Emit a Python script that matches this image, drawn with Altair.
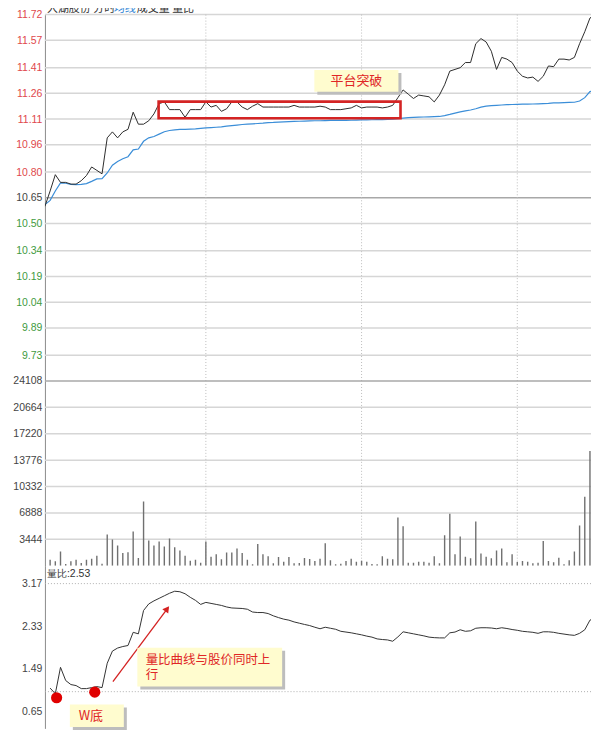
import altair as alt
import pandas as pd

# ---------------- data ----------------
# minute index 0..107 (x), price line and average-price line
price = [10.60, 10.69, 10.785, 10.74, 10.74, 10.73, 10.73, 10.75, 10.78, 10.83,
         10.81, 10.79, 11.00, 11.035, 11.00, 11.035, 11.05, 11.15, 11.08, 11.08,
         11.10, 11.14, 11.20, 11.21, 11.165, 11.165, 11.165, 11.12, 11.165, 11.165,
         11.165, 11.21, 11.18, 11.19, 11.155, 11.17, 11.21, 11.21, 11.18, 11.165,
         11.185, 11.20, 11.18, 11.18, 11.18, 11.18, 11.18, 11.18, 11.19, 11.18,
         11.18, 11.18, 11.18, 11.185, 11.18, 11.165, 11.165, 11.165, 11.17, 11.175,
         11.19, 11.175, 11.18, 11.18, 11.18, 11.175, 11.18, 11.19, 11.235, 11.28,
         11.255, 11.23, 11.25, 11.245, 11.24, 11.21, 11.25, 11.31, 11.39, 11.40,
         11.41, 11.44, 11.44, 11.55, 11.58, 11.56, 11.506, 11.40, 11.47, 11.46,
         11.44, 11.39, 11.36, 11.35, 11.355, 11.33, 11.36, 11.42, 11.416, 11.46,
         11.46, 11.455, 11.47, 11.55, 11.62, 11.70, 11.72, 11.72]

avg_price = [10.61, 10.635, 10.69, 10.737, 10.735, 10.728, 10.727, 10.728, 10.733, 10.746,
             10.76, 10.762, 10.795, 10.84, 10.862, 10.878, 10.89, 10.93, 10.935, 10.98,
             11.00, 11.008, 11.022, 11.036, 11.043, 11.047, 11.05, 11.05, 11.051, 11.052,
             11.055, 11.058, 11.06, 11.062, 11.064, 11.069, 11.072, 11.075, 11.078, 11.08,
             11.082, 11.084, 11.086, 11.089, 11.09, 11.092, 11.094, 11.095, 11.096, 11.097,
             11.098, 11.099, 11.10, 11.10, 11.101, 11.102, 11.102, 11.102, 11.102, 11.103,
             11.104, 11.105, 11.105, 11.106, 11.107, 11.107, 11.108, 11.109, 11.112, 11.115,
             11.118, 11.12, 11.121, 11.122, 11.123, 11.124, 11.125, 11.13, 11.137, 11.145,
             11.152, 11.158, 11.163, 11.17, 11.18, 11.185, 11.188, 11.19, 11.192, 11.194,
             11.195, 11.196, 11.197, 11.197, 11.198, 11.199, 11.20, 11.201, 11.204, 11.205,
             11.206, 11.207, 11.208, 11.215, 11.235, 11.27, 11.278, 11.279]

# volume bars, minute index 1..106
volume = [786, 570, 1834, 218, 570, 786, 350, 786, 917, 1310,
          262, 4060, 3406, 2620, 1660, 1747, 4454, 1004, 8384, 3275,
          2620, 3144, 2489, 3537, 2401, 1965, 1310, 655, 786, 393,
          3144, 1179, 1485, 830, 1703, 1703, 2227, 1660, 786, 175,
          2838, 1485, 1223, 306, 1135, 524, 1135, 306,
          350, 1004, 873, 611, 917, 2925, 699, 175, 262, 611,
          917, 524, 655, 524, 218, 175, 1223, 917, 830, 6288,
          5153, 393, 393, 524, 524, 393, 1223, 306, 3974, 6768,
          1485, 3799, 1179, 961, 5764, 1572, 1179, 961, 1965, 2227,
          437, 1485, 480, 611, 524, 306, 393, 3231, 611, 437,
          1048, 175, 699, 1834, 5240, 8995, 14977, 2533]

# volume ratio (量比), minute index 1..107
vol_ratio = [1.11, 1.00, 1.52, 1.26, 1.18, 1.16, 1.10, 1.10, 1.12, 1.14,
             1.12, 1.60, 1.84, 1.90, 1.93, 1.95, 2.21, 2.18, 2.64, 2.77,
             2.83, 2.88, 2.93, 2.98, 3.02, 3.01, 2.97, 2.90, 2.84, 2.76,
             2.80, 2.78, 2.76, 2.74, 2.71, 2.69, 2.685, 2.68, 2.665, 2.61,
             2.60, 2.60, 2.58, 2.535, 2.50, 2.47, 2.45, 2.415, 2.39, 2.365,
             2.343, 2.31, 2.28, 2.31, 2.29, 2.27, 2.23, 2.215, 2.20, 2.18,
             2.16, 2.135, 2.115, 2.08, 2.068, 2.06, 2.034, 2.12, 2.22, 2.20,
             2.18, 2.16, 2.14, 2.115, 2.105, 2.10, 2.10, 2.20, 2.215, 2.26,
             2.23, 2.24, 2.29, 2.30, 2.30, 2.295, 2.28, 2.30, 2.285, 2.265,
             2.25, 2.23, 2.22, 2.21, 2.19, 2.22, 2.22, 2.21, 2.19, 2.175,
             2.16, 2.15, 2.19, 2.26, 2.45, 2.495, 2.495]

price_ticks = [11.72, 11.57, 11.41, 11.26, 11.11, 10.96, 10.80, 10.65,
               10.50, 10.34, 10.19, 10.04, 9.89, 9.73]
vol_ticks = [3444, 6888, 10332, 13776, 17220, 20664, 24108]
ratio_ticks = [0.65, 1.49, 2.33, 3.17]
ratio_ref_lines = [3.17, 1.04]
time_lines = [31, 61, 91]
prev_close = 10.65
ratio_label = "量比:2.53"

platform_box = {"x": 21.9, "x2": 68.5, "y": 11.115, "y2": 11.212}
platform_note = {"x": 51.9, "x2": 68.1, "y": 11.27, "y2": 11.397,
                 "tx": 60.0, "ty": 11.333, "text": "平台突破"}
ratio_note_box = {"x": 17.8, "x2": 45.7, "y": 1.142, "y2": 1.904}
ratio_note_lines = ["量比曲线与股价同时上", "行"]
ratio_note_x = [19.4, 19.4]
ratio_note_y = [1.67, 1.365]
w_box = {"x": 4.8, "x2": 15.2, "y": 0.341, "y2": 0.788}
w_text = {"tx": 6.5, "ty": 0.558, "text": "W底"}
w_dots_x = [2.25, 9.6]
w_dots_y = [0.92, 1.03]
arrow = {"x": 13.1, "y": 1.24, "x2": 23.7, "y2": 2.69}
arrow_head = {"x": 23.55, "y": 2.674}

# ---------------- styling ----------------
FONT = "Liberation Sans"
CJK = "Noto Sans CJK SC"
W = 547
RED_TXT = "#e02626"
NOTE_BG = "#fffccf"
SHADOW = "#bdbdbd"

XS = alt.Scale(domain=[0, 105.2], nice=False, zero=False)
PS = alt.Scale(domain=[9.58, 11.72], nice=False, zero=False)
VS = alt.Scale(domain=[0, 24108], nice=False, zero=False)
RS = alt.Scale(domain=[0.316, 3.524], nice=False, zero=False)


def X(field="i"):
    return alt.X(f"{field}:Q", scale=XS, axis=None)


def make_axis(values, fmt, label_color):
    return alt.Axis(values=values, format=fmt, grid=False, ticks=False, domain=True,
                    domainColor="#8c8c8c", domainWidth=1, labelPadding=3, labelFont=FONT,
                    labelFontSize=10.5, labelOverlap=False, labelBound=False,
                    labelFlush=False, minExtent=37, maxExtent=37, title=None,
                    labelColor=label_color)


price_label_color = {
    "condition": [
        {"test": "datum.value > 10.655", "value": "#e0484c"},
        {"test": "datum.value < 10.645", "value": "#3f9b3f"},
    ],
    "value": "#444444",
}
price_axis = make_axis(price_ticks, ".2f", price_label_color)
vol_axis = make_axis(vol_ticks, "d", "#444444")
ratio_axis = make_axis(ratio_ticks, ".2f", "#444444")


def Yp(field):
    return alt.Y(f"{field}:Q", scale=PS, axis=price_axis)


def Yv(field):
    return alt.Y(f"{field}:Q", scale=VS, axis=vol_axis)


def Yr(field):
    return alt.Y(f"{field}:Q", scale=RS, axis=ratio_axis)


df_p = pd.DataFrame({"i": list(range(len(price))), "price": price, "avg": avg_price})
df_v = pd.DataFrame({"i": list(range(1, len(volume) + 1)), "vol": volume})
df_r = pd.DataFrame({"i": list(range(1, len(vol_ratio) + 1)), "ratio": vol_ratio})
df_t = pd.DataFrame({"t": time_lines})

# ---------------- price panel ----------------
p_grid = alt.Chart(pd.DataFrame({"v": price_ticks})).mark_rule(strokeWidth=1.5).encode(
    y=Yp("v"),
    color=alt.condition(f"datum.v == {prev_close}", alt.value("#a8a8a8"), alt.value("#d6d6d6")),
)
p_vlines = alt.Chart(df_t).mark_rule(strokeDash=[1, 2], color="#bdbdbd", strokeWidth=1).encode(x=X("t"))
p_box = alt.Chart(pd.DataFrame([platform_box])).mark_rect(
    fill="transparent", stroke="#d42424", strokeWidth=2.6).encode(
    x=X("x"), x2="x2", y=Yp("y"), y2="y2")
p_avg = alt.Chart(df_p).mark_line(color="#3b8ed8", strokeWidth=1.2, clip=True).encode(x=X(), y=Yp("avg"))
p_line = alt.Chart(df_p).mark_line(color="#2d2d2d", strokeWidth=1, clip=True).encode(x=X(), y=Yp("price"))
pn_df = pd.DataFrame([platform_note])
p_note_sh = alt.Chart(pn_df).mark_rect(color=SHADOW, xOffset=3, x2Offset=3, yOffset=3, y2Offset=3).encode(
    x=X("x"), x2="x2", y=Yp("y"), y2="y2")
p_note = alt.Chart(pn_df).mark_rect(color=NOTE_BG).encode(x=X("x"), x2="x2", y=Yp("y"), y2="y2")
p_note_t = alt.Chart(pn_df).mark_text(font=CJK, fontSize=13, color=RED_TXT).encode(
    x=X("tx"), y=Yp("ty"), text="text:N")
hdr1 = alt.Chart(pd.DataFrame({"t": ["大湖股份  分时"]})).mark_text(
    font=CJK, fontSize=11, color="#333333", align="left", baseline="bottom").encode(
    x=alt.value(2), y=alt.value(-1), text="t:N")
hdr2 = alt.Chart(pd.DataFrame({"t": ["均线"]})).mark_text(
    font=CJK, fontSize=11, color="#2a7fd4", align="left", baseline="bottom").encode(
    x=alt.value(69), y=alt.value(-1), text="t:N")
hdr3 = alt.Chart(pd.DataFrame({"t": ["成交量  量比"]})).mark_text(
    font=CJK, fontSize=11, color="#333333", align="left", baseline="bottom").encode(
    x=alt.value(92), y=alt.value(-1), text="t:N")

price_chart = alt.layer(p_grid, p_vlines, p_avg, p_line, p_box, p_note_sh, p_note, p_note_t,
                        hdr1, hdr2, hdr3).properties(width=W, height=367)

# ---------------- volume panel ----------------
v_grid = alt.Chart(pd.DataFrame({"v": vol_ticks})).mark_rule(strokeWidth=1.5).encode(
    y=Yv("v"),
    color=alt.condition("datum.v == 24108", alt.value("#a8a8a8"), alt.value("#d6d6d6")),
)
v_vlines = alt.Chart(df_t).mark_rule(strokeDash=[1, 2], color="#bdbdbd", strokeWidth=1).encode(x=X("t"))
v_bars = alt.Chart(df_v).mark_rule(color="#707070", strokeWidth=1.4, clip=True).encode(
    x=X(), y=Yv("vol"), y2=alt.datum(0))
vol_chart = alt.layer(v_grid, v_vlines, v_bars).properties(width=W, height=185)

# ---------------- ratio panel ----------------
r_grid = alt.Chart(pd.DataFrame({"v": ratio_ref_lines})).mark_rule(
    strokeDash=[1, 2], color="#b0b0b0", strokeWidth=1).encode(y=Yr("v"))
r_line = alt.Chart(df_r).mark_line(color="#333333", strokeWidth=1, clip=True).encode(x=X(), y=Yr("ratio"))
r_label = alt.Chart(pd.DataFrame({"t": [ratio_label]})).mark_text(
    font=FONT, fontSize=10.5, color="#333333", align="left", baseline="middle").encode(
    x=alt.value(2), y=alt.value(8), text="t:N")
ar_df = pd.DataFrame([arrow])
r_arrow = alt.Chart(ar_df).mark_rule(color="#d42222", strokeWidth=1.3).encode(
    x=X("x"), x2="x2", y=Yr("y"), y2="y2")
r_head = alt.Chart(pd.DataFrame([arrow_head])).mark_point(
    shape="triangle-up", filled=True, size=55, angle=36.7, color="#d42222", opacity=1).encode(
    x=X("x"), y=Yr("y"))
rn_df = pd.DataFrame([ratio_note_box])
r_note_sh = alt.Chart(rn_df).mark_rect(color=SHADOW, xOffset=3, x2Offset=3, yOffset=3, y2Offset=3).encode(
    x=X("x"), x2="x2", y=Yr("y"), y2="y2")
r_note = alt.Chart(rn_df).mark_rect(color=NOTE_BG).encode(x=X("x"), x2="x2", y=Yr("y"), y2="y2")
r_note_t = alt.Chart(pd.DataFrame({"tx": ratio_note_x, "ty": ratio_note_y, "text": ratio_note_lines})).mark_text(
    font=CJK, fontSize=12.5, color=RED_TXT, align="left").encode(x=X("tx"), y=Yr("ty"), text="text:N")
wb_df = pd.DataFrame([w_box])
w_sh = alt.Chart(wb_df).mark_rect(color=SHADOW, xOffset=3, x2Offset=3, yOffset=3, y2Offset=3).encode(
    x=X("x"), x2="x2", y=Yr("y"), y2="y2")
w_rect = alt.Chart(wb_df).mark_rect(color=NOTE_BG).encode(x=X("x"), x2="x2", y=Yr("y"), y2="y2")
w_t = alt.Chart(pd.DataFrame([w_text])).mark_text(
    font=CJK, fontSize=13, color=RED_TXT, align="left").encode(x=X("tx"), y=Yr("ty"), text="text:N")
w_dots = alt.Chart(pd.DataFrame({"x": w_dots_x, "y": w_dots_y})).mark_circle(
    size=125, color="#e00000", opacity=1).encode(x=X("x"), y=Yr("y"))

ratio_chart = alt.layer(r_grid, r_line, r_label, r_arrow, r_head, r_note_sh, r_note, r_note_t,
                        w_sh, w_rect, w_t, w_dots).properties(width=W, height=163)

chart = alt.vconcat(price_chart, vol_chart, ratio_chart, spacing=0, bounds="flush").properties(
    padding={"left": 0, "right": 0, "top": -6, "bottom": 0},
    background="white",
).configure_view(strokeWidth=0)

chart.save("out.html", embed_options={"renderer": "svg", "actions": False})
